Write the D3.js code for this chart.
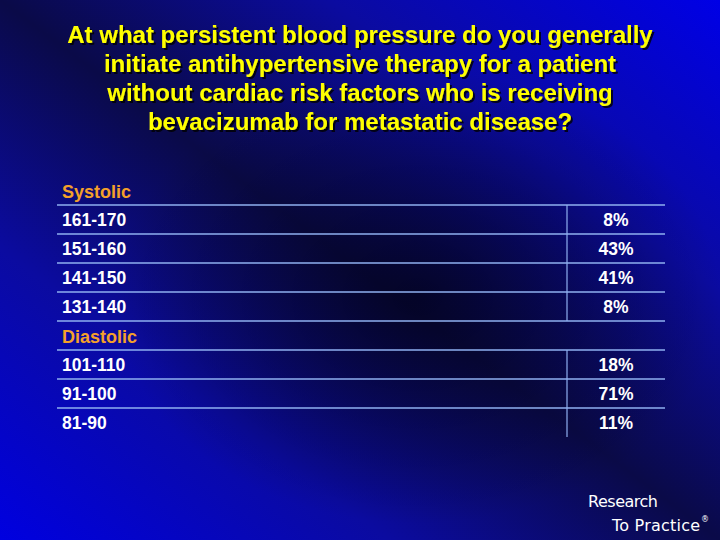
<!DOCTYPE html>
<html>
<head>
<meta charset="utf-8">
<script src="https://cdn.jsdelivr.net/npm/d3@7"></script>
<style>
  body { margin: 0; padding: 0; background: #000030; }
  svg { display: block; }
</style>
</head>
<body>
<div id="chart"></div>
<script>
// Survey answers
const titleLines = [
    "At what persistent blood pressure do you generally",
    "initiate antihypertensive therapy for a patient",
    "without cardiac risk factors who is receiving",
    "bevacizumab for metastatic disease?"
];
const sections = ["Systolic", "Diastolic"];
const systolicRanges = ["161-170", "151-160", "141-150", "131-140"];
const systolicPct = [8, 43, 41, 8];
const diastolicRanges = ["101-110", "91-100", "81-90"];
const diastolicPct = [18, 71, 11];

const width = 720, height = 540;

const svg = d3.select("#chart").append("svg")
    .attr("width", width)
    .attr("height", height);

// background
const defs = svg.append("defs");
const bg = defs.append("linearGradient")
    .attr("id", "bg")
    .attr("x1", 1).attr("y1", 0).attr("x2", 0).attr("y2", 1);
bg.append("stop").attr("offset", 0).attr("stop-color", "#0000e6");
bg.append("stop").attr("offset", 0.27).attr("stop-color", "#0b0ba0");
bg.append("stop").attr("offset", 0.5).attr("stop-color", "#0a0a48");
bg.append("stop").attr("offset", 0.73).attr("stop-color", "#0b0ba0");
bg.append("stop").attr("offset", 1).attr("stop-color", "#0000e0");

const shade = defs.append("radialGradient")
    .attr("id", "shade")
    .attr("cx", 0.58).attr("cy", 0.55).attr("r", 0.42);
shade.append("stop").attr("offset", 0).attr("stop-color", "#000010").attr("stop-opacity", 0.6);
shade.append("stop").attr("offset", 1).attr("stop-color", "#000010").attr("stop-opacity", 0);

const shadow = defs.append("filter").attr("id", "shadow")
    .attr("x", -0.05).attr("y", -0.2).attr("width", 1.1).attr("height", 1.5);
shadow.append("feDropShadow")
    .attr("dx", 2).attr("dy", 2).attr("stdDeviation", 0.6)
    .attr("flood-color", "#000000").attr("flood-opacity", 0.8);

svg.append("rect").attr("width", width).attr("height", height).attr("fill", "url(#bg)");
svg.append("rect").attr("width", width).attr("height", height).attr("fill", "url(#shade)");

// title
svg.append("g")
    .attr("filter", "url(#shadow)")
    .selectAll("text")
    .data(titleLines)
    .enter()
    .append("text")
    .attr("x", width / 2)
    .attr("y", (d, i) => 43 + i * 29)
    .attr("text-anchor", "middle")
    .style("font-family", "'Liberation Sans', Arial, sans-serif")
    .style("font-weight", "bold")
    .style("font-size", "24px")
    .attr("fill", "#ffff00")
    .text(d => d);

// table rows: header + ranges for each section
const rows = [];
sections.forEach((s, si) => {
    rows.push({ key: s, header: true, section: si });
    const cats = si === 0 ? systolicRanges : diastolicRanges;
    const vals = si === 0 ? systolicPct : diastolicPct;
    cats.forEach((c, i) => rows.push({ key: c, value: vals[i], header: false, section: si }));
});

const y = d3.scaleBand()
    .domain(rows.map(d => d.key))
    .range([176, 437]);

const x = d3.scaleLinear()
    .domain([0, 1])
    .range([57, 665]);
const splitX = 567;

const table = svg.append("g");

// horizontal rules under every row but the last
table.selectAll("line.rule")
    .data(rows.slice(0, -1))
    .enter()
    .append("line")
    .attr("class", "rule")
    .attr("x1", x(0))
    .attr("x2", x(1))
    .attr("y1", d => y(d.key) + y.bandwidth())
    .attr("y2", d => y(d.key) + y.bandwidth())
    .attr("stroke", "#8fb0f0")
    .attr("stroke-width", 1.5);

// vertical separators per section
sections.forEach((s, si) => {
    const dataRows = rows.filter(d => d.section === si && !d.header);
    table.append("line")
        .attr("x1", splitX).attr("x2", splitX)
        .attr("y1", y(dataRows[0].key))
        .attr("y2", y(dataRows[dataRows.length - 1].key) + y.bandwidth())
        .attr("stroke", "#8fb0f0")
        .attr("stroke-width", 1.2);
});

table.selectAll("text.label")
    .data(rows)
    .enter()
    .append("text")
    .attr("class", "label")
    .attr("x", 62)
    .attr("y", d => y(d.key) + y.bandwidth() / 2 + (d.header ? 7 : 6))
    .style("font-family", "'Liberation Sans', Arial, sans-serif")
    .style("font-weight", "bold")
    .style("font-size", d => d.header ? "18px" : "17.5px")
    .attr("fill", d => d.header ? "#f4a02a" : "#ffffff")
    .text(d => d.key);

table.selectAll("text.value")
    .data(rows.filter(d => !d.header))
    .enter()
    .append("text")
    .attr("class", "value")
    .attr("x", 616)
    .attr("y", d => y(d.key) + y.bandwidth() / 2 + 6)
    .attr("text-anchor", "middle")
    .style("font-family", "'Liberation Sans', Arial, sans-serif")
    .style("font-weight", "bold")
    .style("font-size", "17.5px")
    .attr("fill", "#ffffff")
    .text(d => d.value + "%");

// logo
const logo = svg.append("g")
    .style("font-family", "'DejaVu Sans', Verdana, sans-serif")
    .style("font-size", "16px")
    .attr("fill", "#ffffff");
logo.append("text").attr("x", 588).attr("y", 507).attr("textLength", 70).text("Research");
logo.append("text").attr("x", 612).attr("y", 531).attr("textLength", 88).text("To Practice");
logo.append("text").attr("x", 701).attr("y", 522).style("font-size", "8px").text("®");
</script>
</body>
</html>
